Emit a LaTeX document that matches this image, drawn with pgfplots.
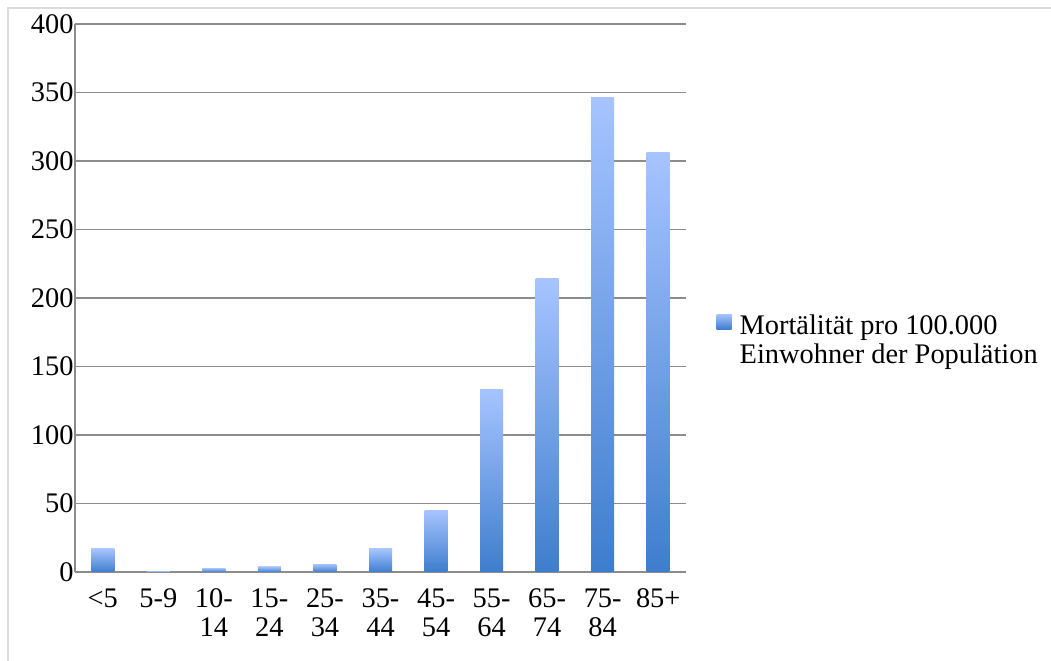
\documentclass[border=0pt]{standalone}
\usepackage{fontspec}
\setmainfont{Liberation Serif}
\usepackage{pgfplots}
\pgfplotsset{compat=1.18}
\definecolor{barTop}{RGB}{166,196,255}
\definecolor{barBot}{RGB}{62,125,205}
\definecolor{gridc}{RGB}{140,140,140}
\definecolor{framec}{RGB}{220,220,220}
\begin{document}
\begin{tikzpicture}
\begin{axis}[
  at={(75bp,89bp)}, anchor=south west,
  width=611bp, height=548bp, scale only axis,
  xmin=-0.5, xmax=10.5, ymin=0, ymax=400,
  ytick={0,50,...,400},
  xtick={0,...,10},
  xticklabels={{<5},{5-9},{10-\\14},{15-\\24},{25-\\34},{35-\\44},{45-\\54},{55-\\64},{65-\\74},{75-\\84},{85+}},
  /pgf/number format/assume math mode=true,
  ticklabel style={font=\fontsize{28.5}{29}\selectfont},
  xticklabel style={align=center, anchor=north, yshift=-13bp},
  yticklabel style={xshift=2bp},
  major tick length=0pt,
  axis x line=bottom, axis y line=left,
  axis line style={-, gridc, line width=1.2bp},
  ymajorgrids, grid style={gridc, line width=1.8bp},
  ybar, bar width=23bp, bar shift=0pt,
  every axis plot/.append style={draw=none, top color=barTop, bottom color=barBot},
  legend style={at={(1.045,0.423)}, anchor=west, draw=none, fill=none,
    font=\fontsize{28.5}{29}\selectfont, cells={align=left}},
  legend cell align=left,
  legend image code/.code={\path[#1] (0bp,11bp) rectangle (15bp,26bp); \path (21bp,11bp);},
]
\addplot coordinates {(0,16.8)};
\addlegendentry{Mortälität pro 100.000\\Einwohner der Populätion}
\addplot+[forget plot] coordinates {(1,0.8)};
\addplot+[forget plot] coordinates {(2,2.9)};
\addplot+[forget plot] coordinates {(3,3.9)};
\addplot+[forget plot] coordinates {(4,5.8)};
\addplot+[forget plot] coordinates {(5,16.8)};
\addplot+[forget plot] coordinates {(6,45)};
\addplot+[forget plot] coordinates {(7,133)};
\addplot+[forget plot] coordinates {(8,214)};
\addplot+[forget plot] coordinates {(9,346)};
\addplot+[forget plot] coordinates {(10,306)};
\end{axis}
\draw[framec, line width=1.5bp] (8bp,-20bp) rectangle (1070bp,653bp);
\pgfresetboundingbox
\useasboundingbox (0,0) rectangle (1051bp,661bp);
\end{tikzpicture}
\end{document}
